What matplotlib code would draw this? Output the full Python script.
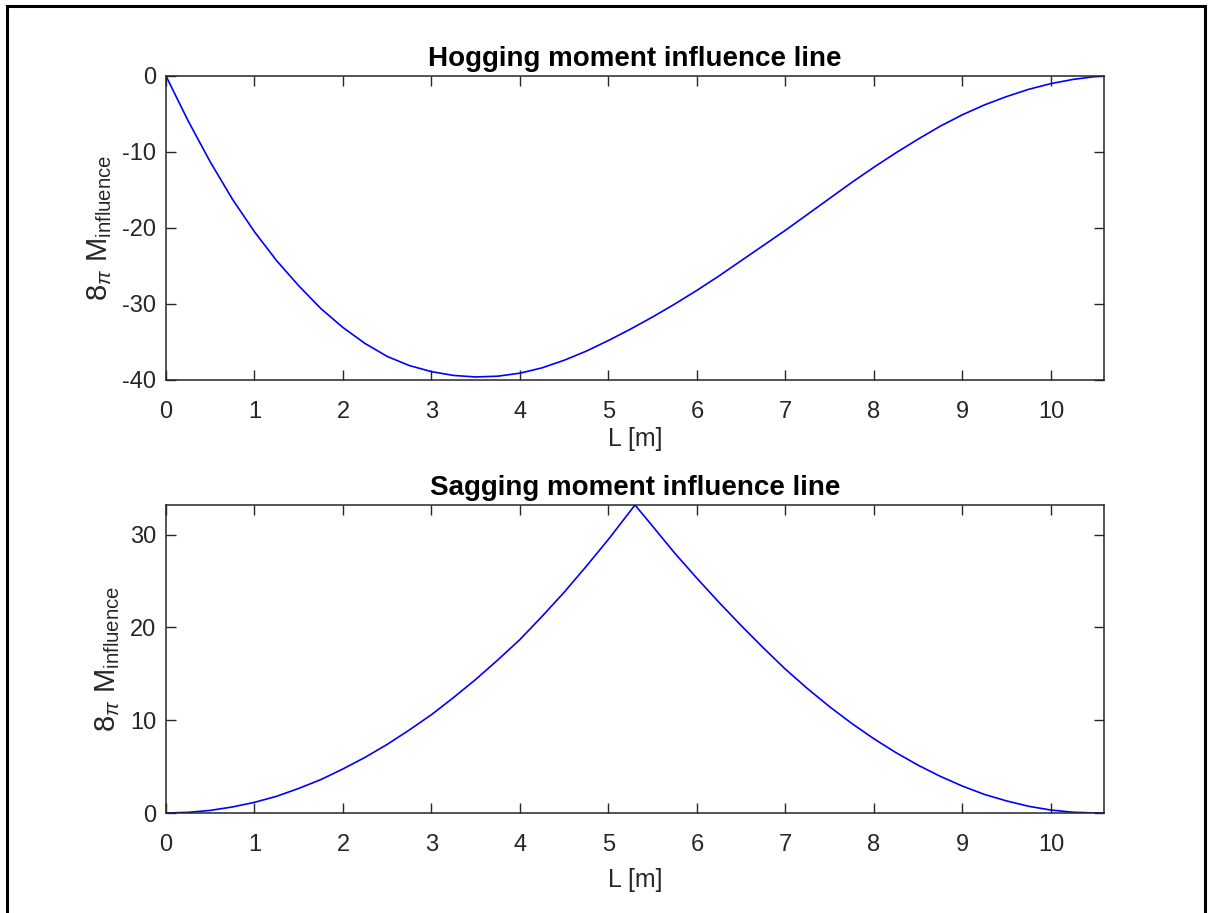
import matplotlib
matplotlib.use("Agg")
import matplotlib.pyplot as plt
from matplotlib.patches import Rectangle

# ---- data ----
x_hog = [0, 0.25, 0.5, 0.75, 1.0, 1.25, 1.5, 1.75, 2.0, 2.25, 2.5, 2.75, 3.0, 3.25,
         3.5, 3.75, 4.0, 4.25, 4.5, 4.75, 5.0, 5.25, 5.5, 5.75, 6.0, 6.25, 6.5, 6.75,
         7.0, 7.25, 7.5, 7.75, 8.0, 8.25, 8.5, 8.75, 9.0, 9.25, 9.5, 9.75, 10.0,
         10.25, 10.5, 10.6]
m_hog = [0, -5.9, -11.3, -16.2, -20.5, -24.3, -27.6, -30.6, -33.1, -35.2, -36.9,
         -38.1, -38.9, -39.4, -39.6, -39.5, -39.1, -38.4, -37.4, -36.2, -34.8, -33.3,
         -31.7, -30.0, -28.2, -26.3, -24.3, -22.3, -20.3, -18.2, -16.1, -14.0, -12.0,
         -10.1, -8.3, -6.6, -5.1, -3.8, -2.7, -1.75, -1.0, -0.45, -0.08, 0]

x_sag = [0, 0.25, 0.5, 0.75, 1.0, 1.25, 1.5, 1.75, 2.0, 2.25, 2.5, 2.75, 3.0, 3.25,
         3.5, 3.75, 4.0, 4.25, 4.5, 4.75, 5.0, 5.3, 5.5, 5.75, 6.0, 6.25, 6.5, 6.75,
         7.0, 7.25, 7.5, 7.75, 8.0, 8.25, 8.5, 8.75, 9.0, 9.25, 9.5, 9.75, 10.0,
         10.25, 10.5, 10.6]
m_sag = [0, 0.07, 0.28, 0.65, 1.15, 1.8, 2.65, 3.6, 4.75, 6.0, 7.4, 8.95, 10.6, 12.45,
         14.4, 16.5, 18.7, 21.2, 23.8, 26.6, 29.5, 33.2, 30.9, 28.0, 25.3, 22.7, 20.2,
         17.8, 15.5, 13.4, 11.45, 9.65, 8.0, 6.5, 5.15, 3.95, 2.9, 2.0, 1.3, 0.72, 0.32,
         0.08, 0.005, 0]

x_ticks = [0, 1, 2, 3, 4, 5, 6, 7, 8, 9, 10]
hog_yticks = [-40, -30, -20, -10, 0]
sag_yticks = [0, 10, 20, 30]
titles = ["Hogging moment influence line", "Sagging moment influence line"]
xlabel = "L [m]"
ylabel = r"8$_{\pi}$ M$_{\mathrm{influence}}$"

plt.rcParams['font.family'] = ['Liberation Sans', 'DejaVu Sans']
plt.rcParams['mathtext.fontset'] = 'custom'
plt.rcParams['mathtext.rm'] = 'Liberation Sans'
plt.rcParams['mathtext.it'] = 'Liberation Sans:italic'
plt.rcParams['mathtext.bf'] = 'Liberation Sans:bold'
plt.rcParams['axes.unicode_minus'] = False

W, H = 1218, 913
fig = plt.figure(figsize=(W / 100, H / 100), dpi=100)
fig.patch.set_facecolor('white')

# outer frame
fig.add_artist(Rectangle((7 / W, -0.05), (1205 - 7) / W, 1.05 - 6 / H,
                         transform=fig.transFigure, fill=False,
                         edgecolor='black', linewidth=2.2))

grey = '#262626'
ax1 = fig.add_axes([166 / W, (H - 380) / H, (1104 - 166) / W, (380 - 76) / H])
ax2 = fig.add_axes([166 / W, (H - 813) / H, (1104 - 166) / W, (813 - 505) / H])

for ax, xs, ys, yt, yl, t, lp in [(ax1, x_hog, m_hog, hog_yticks, (-40, 0), titles[0], 3),
                                  (ax2, x_sag, m_sag, sag_yticks, (0, 33.2), titles[1], 9)]:
    ax.plot(xs, ys, color='#0000ff', linewidth=1.2)
    ax.set_xlim(0, 10.6)
    ax.set_ylim(*yl)
    ax.set_xticks(x_ticks)
    ax.set_yticks(yt)
    ax.tick_params(direction='in', length=7, width=1, colors=grey,
                   labelsize=17, top=True, right=True)
    ax.tick_params(axis='x', pad=15)
    ax.tick_params(axis='y', pad=7)
    for s in ax.spines.values():
        s.set_color(grey)
        s.set_linewidth(1.1)
    ax.set_title(t, fontsize=20, fontweight='bold', color='black', pad=7)
    ax.set_xlabel(xlabel, fontsize=18, color=grey, labelpad=lp)
    ax.set_ylabel(ylabel, fontsize=21, color=grey, labelpad=6)

fig.savefig("out.png", dpi=100)
